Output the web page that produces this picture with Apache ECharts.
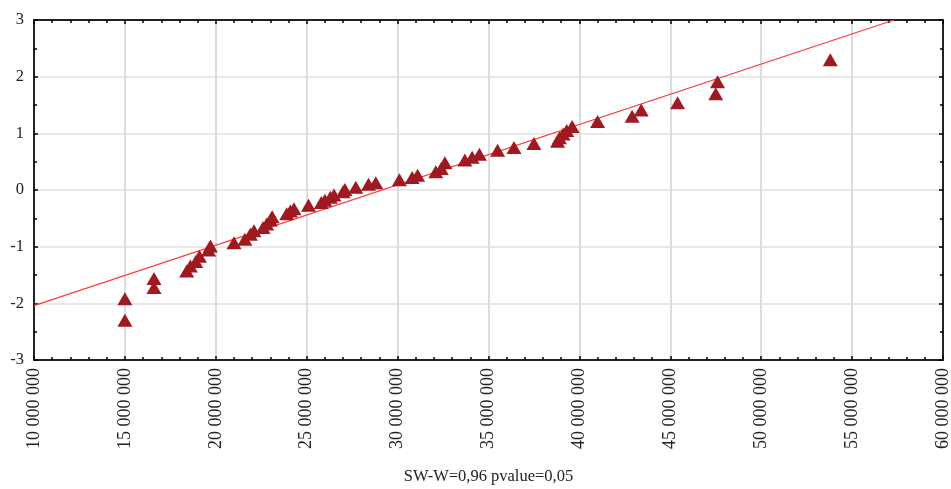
<!DOCTYPE html>
<html>
<head>
<meta charset="utf-8">
<script src="https://cdn.jsdelivr.net/npm/echarts@6/dist/echarts.min.js"></script>
<style>html,body{margin:0;padding:0;background:#fff}#c{width:951px;height:489px}</style>
</head>
<body>
<div id="c"></div>
<script>
// Observed values (x = value, y = expected normal)
var obsX = [15000000,15000000,16600000,16600000,18400000,18600000,18900000,19100000,19600000,19700000,
  21000000,21600000,21900000,22100000,22600000,22800000,23000000,23100000,23900000,24100000,
  24300000,25100000,25800000,26000000,26300000,26500000,27000000,27100000,27700000,28400000,
  28800000,30100000,30800000,31100000,32100000,32400000,32600000,33700000,34100000,34500000,
  35500000,36400000,37500000,38800000,38900000,39100000,39300000,39600000,41000000,42900000,
  43400000,45400000,47500000,47600000,53800000];
var obsY = [-2.30,-1.92,-1.72,-1.56,-1.43,-1.34,-1.26,-1.17,-1.06,-0.99,
  -0.93,-0.87,-0.78,-0.72,-0.66,-0.60,-0.53,-0.47,-0.42,-0.37,
  -0.33,-0.27,-0.22,-0.18,-0.13,-0.09,-0.03,0.01,0.05,0.10,
  0.13,0.18,0.22,0.26,0.32,0.38,0.48,0.53,0.58,0.63,
  0.70,0.75,0.82,0.86,0.92,0.99,1.05,1.12,1.21,1.30,
  1.41,1.54,1.70,1.91,2.30];
// Fitted reference line endpoints
var lineX = [10000000, 57300000];
var lineY = [-2.04, 3.0];
var xTitle = 'SW-W=0,96 pvalue=0,05';

function fmt(v){ return String(Math.round(v)).replace(/\B(?=(\d{3})+(?!\d))/g,' '); }

var chart = echarts.init(document.getElementById('c'));
var fontFam = '"Liberation Serif","Times New Roman",serif';
var tickStyle = {show:true, inside:true, length:4, lineStyle:{color:'#000', width:1.5}};
var minorStyle = {show:true, splitNumber:5, length:3, lineStyle:{color:'#000', width:1.5}};
var minorStyleY = {show:true, splitNumber:2, length:3, lineStyle:{color:'#000', width:1.5}};
chart.setOption({
  animation:false,
  backgroundColor:'#fff',
  grid:{left:34, right:8, top:20, bottom:129, containLabel:false, outerBoundsMode:'none'},
  xAxis:[{
    type:'value', min:10000000, max:60000000, interval:5000000, position:'bottom',
    axisLine:{show:true, onZero:false, lineStyle:{color:'#222', width:2}},
    axisTick:tickStyle, minorTick:minorStyle,
    splitLine:{show:true, lineStyle:{color:'#dcdcdc', width:2}},
    axisLabel:{rotate:90, margin:8, fontSize:18, color:'#222', fontFamily:fontFam, formatter:fmt},
    name:xTitle, nameLocation:'middle', nameGap:108,
    nameTextStyle:{fontSize:16.5, color:'#222', fontFamily:fontFam}
  },{
    type:'value', min:10000000, max:60000000, interval:5000000, position:'top',
    axisLine:{show:true, onZero:false, lineStyle:{color:'#222', width:2}},
    axisTick:tickStyle, minorTick:minorStyle,
    splitLine:{show:false}, axisLabel:{show:false}
  }],
  yAxis:[{
    type:'value', min:-3, max:3, interval:1, position:'left',
    axisLine:{show:true, onZero:false, lineStyle:{color:'#222', width:2}},
    axisTick:tickStyle, minorTick:minorStyleY,
    splitLine:{show:true, lineStyle:{color:'#e0e0e0', width:1.5}},
    axisLabel:{margin:10, fontSize:16.5, color:'#222', fontFamily:fontFam}
  },{
    type:'value', min:-3, max:3, interval:1, position:'right',
    axisLine:{show:true, onZero:false, lineStyle:{color:'#222', width:2}},
    axisTick:tickStyle, minorTick:minorStyleY,
    splitLine:{show:false}, axisLabel:{show:false}
  }],
  series:[{
    type:'line', xAxisIndex:0, yAxisIndex:0,
    data: lineX.map(function(x,i){return [x, lineY[i]];}),
    symbol:'none', clip:true,
    lineStyle:{color:'#ff3a3a', width:1.2}, z:3
  },{
    type:'scatter', xAxisIndex:0, yAxisIndex:0,
    data: obsX.map(function(x,i){return [x, obsY[i]];}),
    symbol:'triangle', symbolSize:[15,13],
    itemStyle:{color:'#9f1a20', opacity:1}, z:4
  }]
});
</script>
</body>
</html>
